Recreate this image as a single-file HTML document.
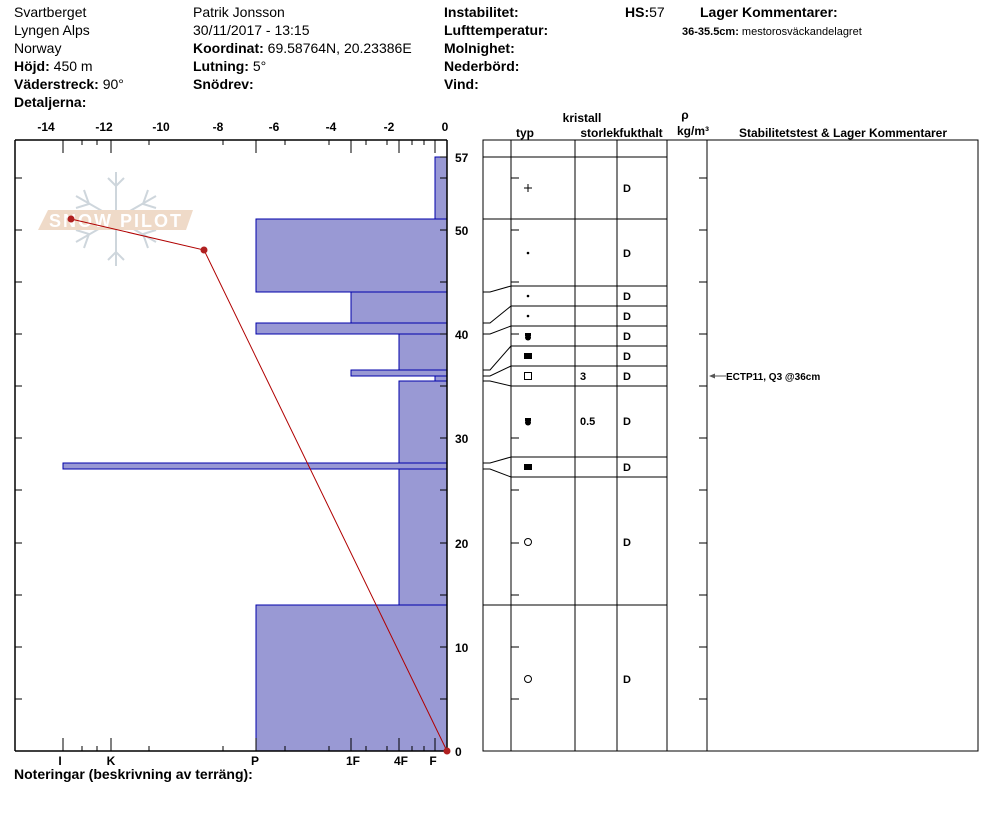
<!DOCTYPE html>
<html><head><meta charset="utf-8"><style>
body{margin:0;background:#fff;}
svg{display:block;font-family:"Liberation Sans",Arial,sans-serif;}
.b{font-weight:bold}
</style></head><body>
<svg width="994" height="840" viewBox="0 0 994 840" xmlns="http://www.w3.org/2000/svg">
<g font-size="14">
<text x="14" y="17">Svartberget</text>
<text x="14" y="35">Lyngen Alps</text>
<text x="14" y="53">Norway</text>
<text x="14" y="71"><tspan class="b">Höjd:</tspan> 450 m</text>
<text x="14" y="89"><tspan class="b">Väderstreck:</tspan> 90°</text>
<text x="14" y="107" class="b">Detaljerna:</text>
<text x="193" y="17">Patrik Jonsson</text>
<text x="193" y="35">30/11/2017 - 13:15</text>
<text x="193" y="53"><tspan class="b">Koordinat:</tspan> 69.58764N, 20.23386E</text>
<text x="193" y="71"><tspan class="b">Lutning:</tspan> 5°</text>
<text x="193" y="89" class="b">Snödrev:</text>
<text x="444" y="17" class="b">Instabilitet:</text>
<text x="444" y="35" class="b">Lufttemperatur:</text>
<text x="444" y="53" class="b">Molnighet:</text>
<text x="444" y="71" class="b">Nederbörd:</text>
<text x="444" y="89" class="b">Vind:</text>
<text x="625" y="17"><tspan class="b">HS:</tspan>57</text>
<text x="700" y="17" class="b">Lager Kommentarer:</text>
</g>
<text x="682" y="35" font-size="11"><tspan class="b">36-35.5cm:</tspan> mestorosväckandelagret</text>

<!-- snowpilot logo -->
<g opacity="0.6">
<g stroke="#aebbc6" stroke-width="2" fill="none">
<line x1="116" y1="172" x2="116" y2="266"/>
<line x1="76" y1="196" x2="156" y2="242"/>
<line x1="76" y1="242" x2="156" y2="196"/>
<polyline points="108,178 116,186 124,178"/>
<polyline points="108,260 116,252 124,260"/>
<polyline points="84,190 89,204 76,208"/>
<polyline points="148,190 143,204 156,208"/>
<polyline points="84,248 89,234 76,230"/>
<polyline points="148,248 143,234 156,230"/>
</g>
<polygon points="48,210 193,210 186,230 38,230" fill="#e6c2a4"/>
<text x="116" y="227" font-size="18" font-weight="bold" fill="#fff" text-anchor="middle" letter-spacing="2">SNOW PILOT</text>
</g>

<!-- bars -->
<g fill="#9999d4" stroke="#0000aa" stroke-width="1">
<rect x="435" y="157" width="12" height="62"/>
<rect x="256" y="219" width="191" height="73"/>
<rect x="351" y="292" width="96" height="31"/>
<rect x="256" y="323" width="191" height="11"/>
<rect x="399" y="334" width="48" height="36"/>
<rect x="351" y="370" width="96" height="6"/>
<rect x="435" y="376" width="12" height="5"/>
<rect x="399" y="381" width="48" height="82"/>
<rect x="63" y="463" width="384" height="6"/>
<rect x="399" y="469" width="48" height="136"/>
<rect x="256" y="605" width="191" height="146"/>
</g>

<!-- chart frame -->
<g stroke="#000" stroke-width="1.5" fill="none">
<line x1="15" y1="140" x2="447" y2="140"/>
<line x1="15" y1="140" x2="15" y2="751"/>
<line x1="447" y1="140" x2="447" y2="751"/>
<line x1="15" y1="751" x2="447" y2="751"/>
</g>
<g stroke="#000" stroke-width="1">
<line x1="63" y1="140" x2="63" y2="153"/><line x1="111" y1="140" x2="111" y2="153"/>
<line x1="256" y1="140" x2="256" y2="153"/><line x1="351" y1="140" x2="351" y2="153"/>
<line x1="399" y1="140" x2="399" y2="153"/><line x1="435" y1="140" x2="435" y2="153"/>
<line x1="82" y1="140" x2="82" y2="145"/><line x1="97" y1="140" x2="97" y2="145"/>
<line x1="149" y1="140" x2="149" y2="145"/><line x1="223" y1="140" x2="223" y2="145"/>
<line x1="285" y1="140" x2="285" y2="145"/><line x1="329" y1="140" x2="329" y2="145"/>
<line x1="366" y1="140" x2="366" y2="145"/><line x1="387" y1="140" x2="387" y2="145"/>
<line x1="412" y1="140" x2="412" y2="145"/><line x1="424" y1="140" x2="424" y2="145"/>
<line x1="63" y1="751" x2="63" y2="738"/><line x1="111" y1="751" x2="111" y2="738"/>
<line x1="256" y1="751" x2="256" y2="738"/><line x1="351" y1="751" x2="351" y2="738"/>
<line x1="399" y1="751" x2="399" y2="738"/><line x1="435" y1="751" x2="435" y2="738"/>
<line x1="82" y1="751" x2="82" y2="746"/><line x1="97" y1="751" x2="97" y2="746"/>
<line x1="149" y1="751" x2="149" y2="746"/><line x1="223" y1="751" x2="223" y2="746"/>
<line x1="285" y1="751" x2="285" y2="746"/><line x1="329" y1="751" x2="329" y2="746"/>
<line x1="366" y1="751" x2="366" y2="746"/><line x1="387" y1="751" x2="387" y2="746"/>
<line x1="412" y1="751" x2="412" y2="746"/><line x1="424" y1="751" x2="424" y2="746"/>
<line x1="15" y1="699" x2="22" y2="699"/><line x1="440" y1="699" x2="447" y2="699"/>
<line x1="15" y1="647" x2="22" y2="647"/><line x1="440" y1="647" x2="447" y2="647"/>
<line x1="15" y1="595" x2="22" y2="595"/><line x1="440" y1="595" x2="447" y2="595"/>
<line x1="15" y1="543" x2="22" y2="543"/><line x1="440" y1="543" x2="447" y2="543"/>
<line x1="15" y1="490" x2="22" y2="490"/><line x1="440" y1="490" x2="447" y2="490"/>
<line x1="15" y1="438" x2="22" y2="438"/><line x1="440" y1="438" x2="447" y2="438"/>
<line x1="15" y1="386" x2="22" y2="386"/><line x1="440" y1="386" x2="447" y2="386"/>
<line x1="15" y1="334" x2="22" y2="334"/><line x1="440" y1="334" x2="447" y2="334"/>
<line x1="15" y1="282" x2="22" y2="282"/><line x1="440" y1="282" x2="447" y2="282"/>
<line x1="15" y1="230" x2="22" y2="230"/><line x1="440" y1="230" x2="447" y2="230"/>
<line x1="15" y1="178" x2="22" y2="178"/><line x1="440" y1="178" x2="447" y2="178"/>
<line x1="440" y1="157" x2="447" y2="157"/>
</g>
<g font-size="12" font-weight="bold" text-anchor="middle">
<text x="46" y="131">-14</text><text x="104" y="131">-12</text><text x="161" y="131">-10</text>
<text x="218" y="131">-8</text><text x="274" y="131">-6</text><text x="331" y="131">-4</text>
<text x="389" y="131">-2</text><text x="445" y="131">0</text>
<text x="60" y="765">I</text><text x="111" y="765">K</text><text x="255" y="765">P</text>
<text x="353" y="765">1F</text><text x="401" y="765">4F</text><text x="433" y="765">F</text>
</g>
<g font-size="12" font-weight="bold">
<text x="455" y="162">57</text><text x="455" y="235">50</text><text x="455" y="339">40</text>
<text x="455" y="443">30</text><text x="455" y="548">20</text><text x="455" y="652">10</text>
<text x="455" y="756">0</text>
</g>
<text x="14" y="779" font-size="14" font-weight="bold">Noteringar (beskrivning av terräng):</text>

<polyline points="71,219 204,250 447,751" fill="none" stroke="#b00000" stroke-width="1"/>
<circle cx="71" cy="219" r="3.5" fill="#b02020"/>
<circle cx="204" cy="250" r="3.5" fill="#b02020"/>
<circle cx="447" cy="751" r="3.5" fill="#b02020"/>

<g font-size="12" font-weight="bold" text-anchor="middle">
<text x="582" y="122">kristall</text>
<text x="525" y="137">typ</text>
<text x="600" y="137">storlek</text>
<text x="641" y="137">fukthalt</text>
<text x="685" y="119">ρ</text>
<text x="693" y="135">kg/m³</text>
<text x="843" y="137">Stabilitetstest &amp; Lager Kommentarer</text>
</g>
<g stroke="#000" stroke-width="1" fill="none">
<rect x="483" y="140" width="495" height="611"/>
<line x1="511" y1="140" x2="511" y2="751"/>
<line x1="575" y1="140" x2="575" y2="751"/>
<line x1="617" y1="140" x2="617" y2="751"/>
<line x1="667" y1="140" x2="667" y2="751"/>
<line x1="707" y1="140" x2="707" y2="751"/>
<line x1="483" y1="157" x2="667" y2="157"/>
<line x1="483" y1="219" x2="667" y2="219"/>
<line x1="511" y1="286" x2="667" y2="286"/>
<line x1="511" y1="306" x2="667" y2="306"/>
<line x1="511" y1="326" x2="667" y2="326"/>
<line x1="511" y1="346" x2="667" y2="346"/>
<line x1="511" y1="366" x2="667" y2="366"/>
<line x1="511" y1="386" x2="667" y2="386"/>
<line x1="511" y1="457" x2="667" y2="457"/>
<line x1="511" y1="477" x2="667" y2="477"/>
<line x1="483" y1="605" x2="667" y2="605"/>
<polyline points="483,292 490,292 511,286"/>
<polyline points="483,323 490,323 511,306"/>
<polyline points="483,334 490,334 511,326"/>
<polyline points="483,370 490,370 511,346"/>
<polyline points="483,376 490,376 511,366"/>
<polyline points="483,381 490,381 511,386"/>
<polyline points="483,463 490,463 511,457"/>
<polyline points="483,469 490,469 511,477"/>
<line x1="511" y1="178" x2="519" y2="178"/><line x1="699" y1="178" x2="707" y2="178"/>
<line x1="511" y1="230" x2="519" y2="230"/><line x1="699" y1="230" x2="707" y2="230"/>
<line x1="511" y1="282" x2="519" y2="282"/><line x1="699" y1="282" x2="707" y2="282"/>
<line x1="511" y1="334" x2="519" y2="334"/><line x1="699" y1="334" x2="707" y2="334"/>
<line x1="699" y1="386" x2="707" y2="386"/>
<line x1="511" y1="438" x2="519" y2="438"/><line x1="699" y1="438" x2="707" y2="438"/>
<line x1="511" y1="490" x2="519" y2="490"/><line x1="699" y1="490" x2="707" y2="490"/>
<line x1="511" y1="543" x2="519" y2="543"/><line x1="699" y1="543" x2="707" y2="543"/>
<line x1="511" y1="595" x2="519" y2="595"/><line x1="699" y1="595" x2="707" y2="595"/>
<line x1="511" y1="647" x2="519" y2="647"/><line x1="699" y1="647" x2="707" y2="647"/>
<line x1="511" y1="699" x2="519" y2="699"/><line x1="699" y1="699" x2="707" y2="699"/>
<line x1="524" y1="188" x2="532" y2="188"/><line x1="528" y1="184" x2="528" y2="192"/>
<rect x="524.5" y="372.5" width="7" height="7"/>
<circle cx="528" cy="542" r="3.5"/>
<circle cx="528" cy="679" r="3.5"/>
</g>
<g fill="#000">
<circle cx="528" cy="253" r="1.3"/><circle cx="528" cy="296" r="1.3"/><circle cx="528" cy="316" r="1.3"/>
<rect x="525" y="333" width="6" height="3"/><circle cx="528" cy="337.5" r="3"/>
<rect x="524" y="353" width="8" height="6"/>
<rect x="525" y="418" width="6" height="3"/><circle cx="528" cy="422.5" r="3"/>
<rect x="524" y="464" width="8" height="6"/>
</g>
<g font-size="11" font-weight="bold">
<text x="623" y="192">D</text><text x="623" y="257">D</text><text x="623" y="300">D</text>
<text x="623" y="320">D</text><text x="623" y="340">D</text><text x="623" y="360">D</text>
<text x="623" y="380">D</text><text x="623" y="425">D</text><text x="623" y="471">D</text>
<text x="623" y="546">D</text><text x="623" y="683">D</text>
<text x="580" y="380">3</text><text x="580" y="425">0.5</text>
<text x="726" y="380" font-size="10">ECTP11, Q3 @36cm</text>
</g>
<line x1="710" y1="376" x2="726" y2="376" stroke="#555" stroke-width="1"/>
<polygon points="709,376 715,373.5 715,378.5" fill="#555"/>
</svg>
</body></html>
